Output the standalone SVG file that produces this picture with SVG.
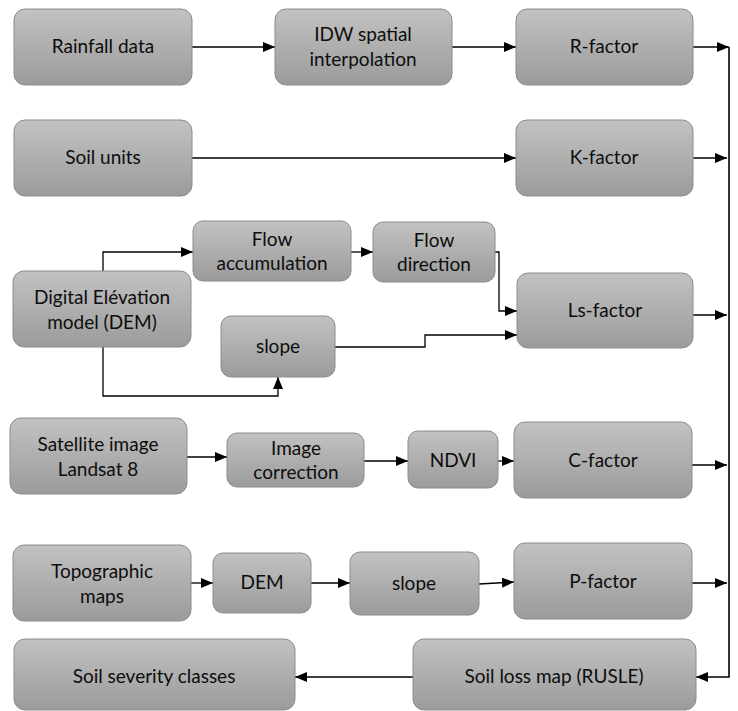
<svg xmlns="http://www.w3.org/2000/svg" width="738" height="711" viewBox="0 0 738 711">
<defs>
<linearGradient id="g" x1="0" y1="0" x2="0" y2="1">
<stop offset="0" stop-color="#c2c2c2"/>
<stop offset="1" stop-color="#9b9b9b"/>
</linearGradient>
<marker id="a" viewBox="0 0 12 10" refX="12" refY="5" markerWidth="12" markerHeight="10" markerUnits="userSpaceOnUse" orient="auto">
<path d="M0,0 L12,5 L0,10 Z" fill="#000"/>
</marker>
<style>
.n rect{fill:url(#g);stroke:#8c8c8c;stroke-width:1}
.n text{font-family:Lato,"Open Sans",sans-serif;font-size:19px;fill:#0d0d0d;text-anchor:middle}
.c path{fill:none;stroke:#000;stroke-width:1.3;marker-end:url(#a)}
</style>
</defs>
<rect width="738" height="711" fill="#fff"/>
<g class="c">
<path d="M192,47 H275"/>
<path d="M452,47 H516"/>
<path d="M693,47 H729"/>
<path d="M192,158 H516"/>
<path d="M693,158 H727"/>
<path d="M103,271 V252 H193"/>
<path d="M103,347 V396 H278 V377"/>
<path d="M351,252 H373"/>
<path d="M495,252 H499 V311 H517"/>
<path d="M335,347 H425 V335 H517"/>
<path d="M693,315 H727"/>
<path d="M187,457 H227"/>
<path d="M364,461 H408"/>
<path d="M498,461 H514"/>
<path d="M692,465 H727"/>
<path d="M191,583 H213"/>
<path d="M311,583 H350"/>
<path d="M479,584 L514,582"/>
<path d="M692,583 H727"/>
<path d="M729,47 V677 H696" style="stroke-width:1.6"/>
<path d="M413,677 H295"/>
</g>
<g id="rainfall" class="n"><rect x="14" y="9" width="178" height="76" rx="11"/><text x="103" y="53">Rainfall data</text></g>
<g id="idw" class="n"><rect x="275" y="9" width="177" height="76" rx="11"/><text x="363" y="41">IDW spatial</text><text x="363" y="66">interpolation</text></g>
<g id="rfactor" class="n"><rect x="516" y="9" width="177" height="76" rx="11"/><text x="604" y="53">R-factor</text></g>
<g id="soilunits" class="n"><rect x="14" y="120" width="178" height="76" rx="11"/><text x="103" y="164">Soil units</text></g>
<g id="kfactor" class="n"><rect x="516" y="120" width="177" height="76" rx="11"/><text x="604" y="164">K-factor</text></g>
<g id="flowacc" class="n"><rect x="193" y="221" width="158" height="60" rx="10"/><text x="272" y="246">Flow</text><text x="272" y="270">accumulation</text></g>
<g id="flowdir" class="n"><rect x="373" y="222" width="122" height="60" rx="10"/><text x="434" y="247">Flow</text><text x="434" y="271">direction</text></g>
<g id="dem" class="n"><rect x="13" y="271" width="178" height="76" rx="11"/><text x="102" y="304">Digital Elévation</text><text x="102" y="329">model (DEM)</text></g>
<g id="slope1" class="n"><rect x="221" y="316" width="114" height="61" rx="10"/><text x="278" y="353">slope</text></g>
<g id="lsfactor" class="n"><rect x="517" y="273" width="176" height="75" rx="11"/><text x="605" y="317">Ls-factor</text></g>
<g id="satellite" class="n"><rect x="10" y="418" width="177" height="76" rx="11"/><text x="98" y="451">Satellite image</text><text x="98" y="476">Landsat 8</text></g>
<g id="imgcorr" class="n"><rect x="227" y="433" width="137" height="54" rx="10"/><text x="296" y="455">Image</text><text x="296" y="479">correction</text></g>
<g id="ndvi" class="n"><rect x="408" y="431" width="90" height="57" rx="10"/><text x="453" y="467">NDVI</text></g>
<g id="cfactor" class="n"><rect x="514" y="422" width="178" height="76" rx="11"/><text x="603" y="467">C-factor</text></g>
<g id="topo" class="n"><rect x="13" y="545" width="178" height="76" rx="11"/><text x="102" y="578">Topographic</text><text x="102" y="603">maps</text></g>
<g id="dem2" class="n"><rect x="213" y="553" width="98" height="60" rx="10"/><text x="262" y="589">DEM</text></g>
<g id="slope2" class="n"><rect x="350" y="552" width="129" height="63" rx="10"/><text x="414" y="590">slope</text></g>
<g id="pfactor" class="n"><rect x="514" y="543" width="178" height="76" rx="11"/><text x="603" y="588">P-factor</text></g>
<g id="severity" class="n"><rect x="14" y="639" width="281" height="71" rx="11"/><text x="154" y="683">Soil severity classes</text></g>
<g id="soilloss" class="n"><rect x="413" y="639" width="283" height="71" rx="11"/><text x="554" y="683">Soil loss map (RUSLE)</text></g>
</svg>
